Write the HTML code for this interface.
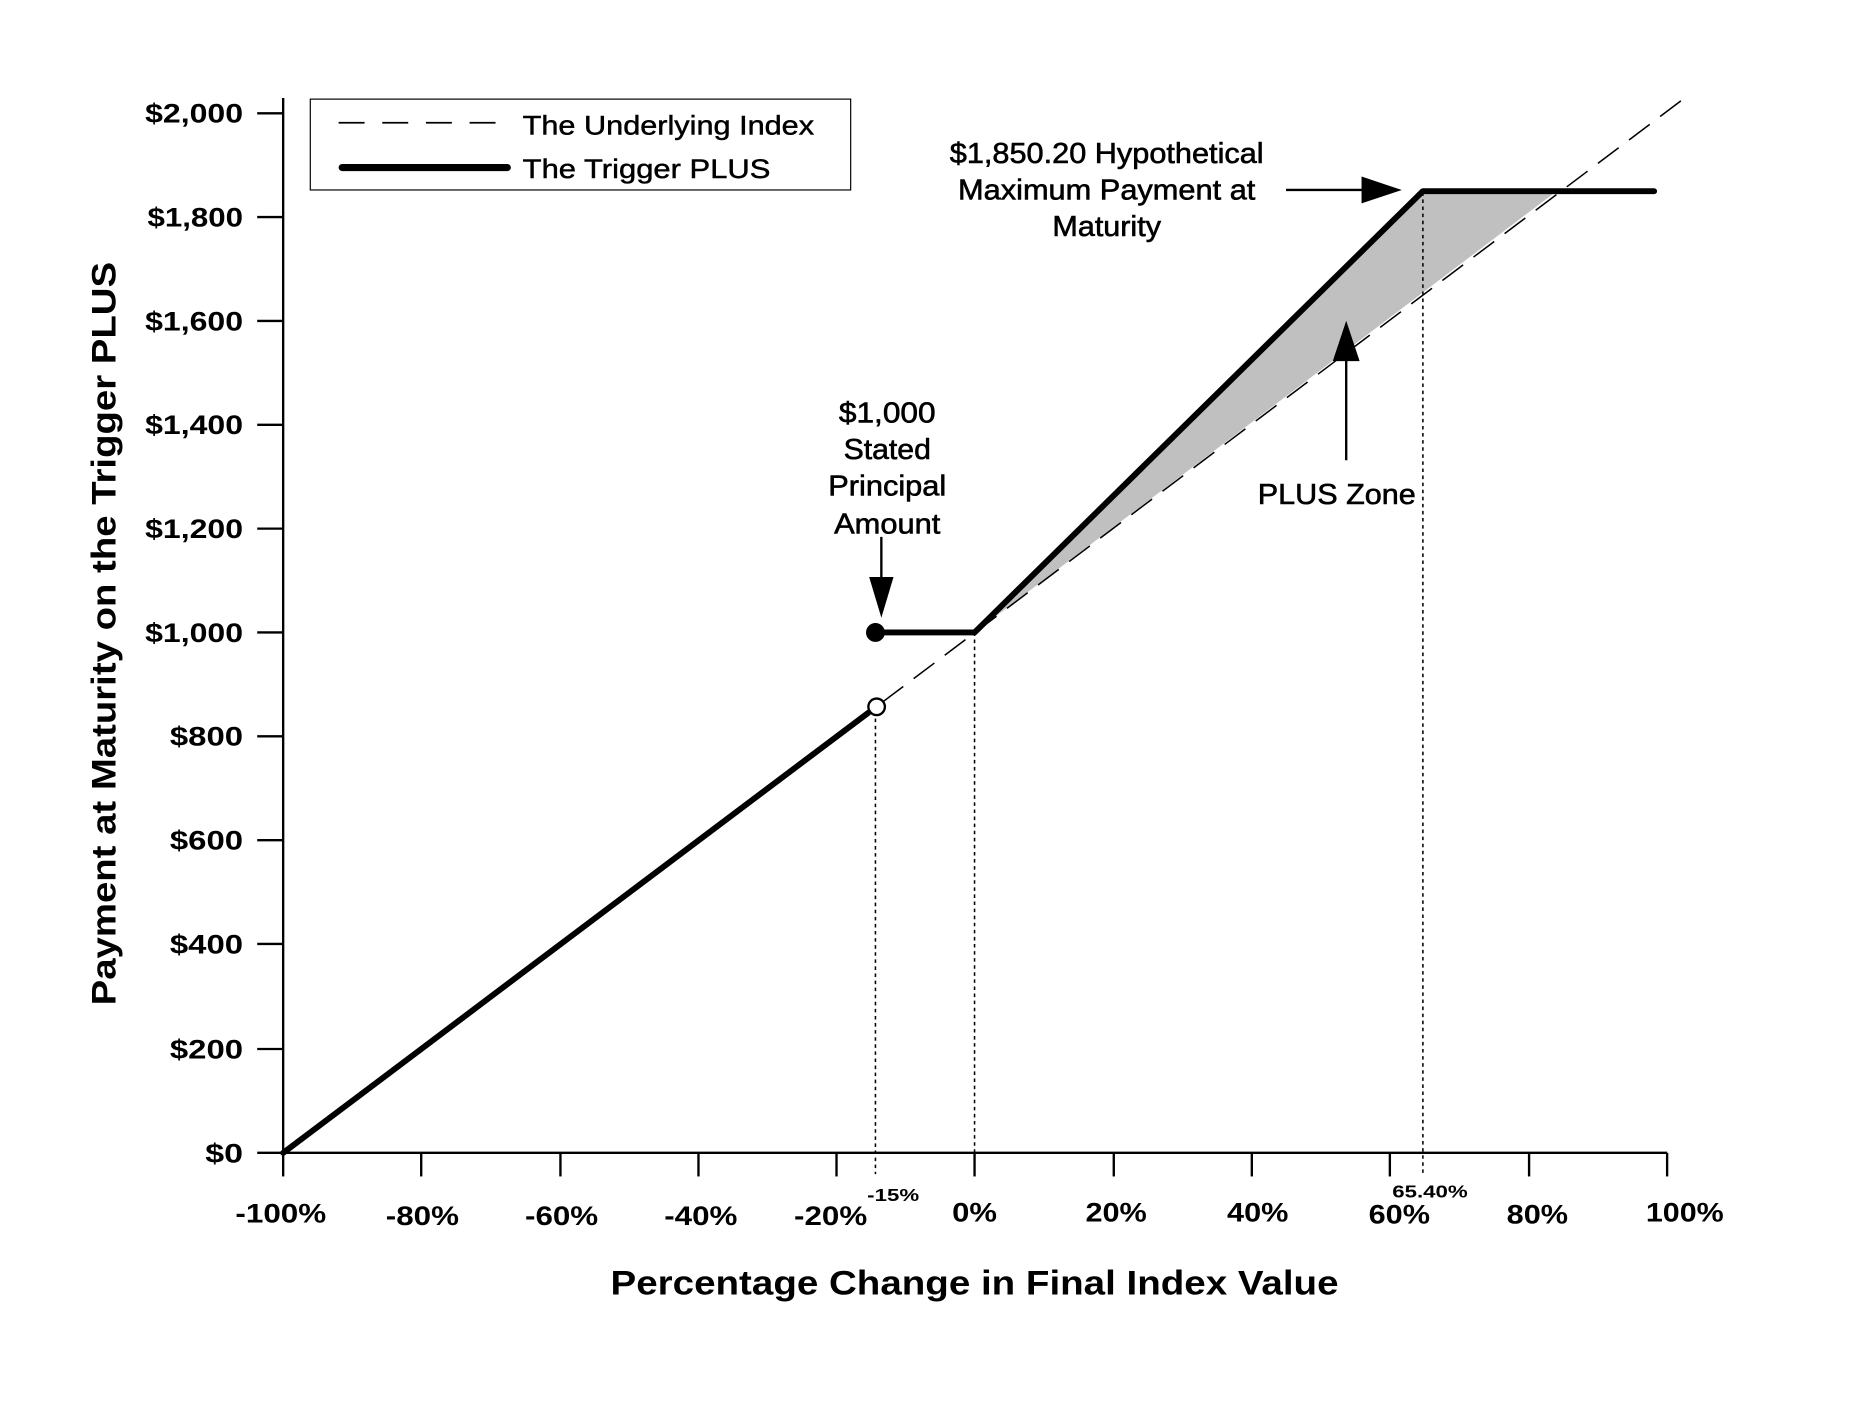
<!DOCTYPE html>
<html><head><meta charset="utf-8"><style>html,body{margin:0;padding:0;background:#fff}svg{display:block}</style></head>
<body>
<svg width="1850" height="1403" viewBox="0 0 1568 1189" preserveAspectRatio="none" xmlns="http://www.w3.org/2000/svg" font-family="Liberation Sans, Arial, sans-serif">
<polygon points="826,536 1206,163 1318,163" fill="#c0c0c0"/>
<g stroke="#000" stroke-width="1.3" stroke-dasharray="3,3">
<line x1="742" y1="603" x2="742" y2="995"/>
<line x1="826" y1="536" x2="826" y2="995"/>
<line x1="1206" y1="163" x2="1206" y2="995"/>
</g>
<line x1="748" y1="595" x2="1428" y2="83" stroke="#000" stroke-width="1.3" stroke-dasharray="22,11"/>
<g stroke="#000" stroke-width="2">
<line x1="240" y1="83" x2="240" y2="977"/>
<line x1="240" y1="977" x2="1413" y2="977"/>
<line x1="218" y1="96" x2="240" y2="96"/>
<line x1="218" y1="184" x2="240" y2="184"/>
<line x1="218" y1="272" x2="240" y2="272"/>
<line x1="218" y1="360" x2="240" y2="360"/>
<line x1="218" y1="448" x2="240" y2="448"/>
<line x1="218" y1="536" x2="240" y2="536"/>
<line x1="218" y1="624" x2="240" y2="624"/>
<line x1="218" y1="712" x2="240" y2="712"/>
<line x1="218" y1="800" x2="240" y2="800"/>
<line x1="218" y1="889" x2="240" y2="889"/>
<line x1="218" y1="977" x2="240" y2="977"/>
<line x1="240" y1="977" x2="240" y2="997"/>
<line x1="357" y1="977" x2="357" y2="997"/>
<line x1="475" y1="977" x2="475" y2="997"/>
<line x1="592" y1="977" x2="592" y2="997"/>
<line x1="709" y1="977" x2="709" y2="997"/>
<line x1="826" y1="977" x2="826" y2="997"/>
<line x1="944" y1="977" x2="944" y2="997"/>
<line x1="1061" y1="977" x2="1061" y2="997"/>
<line x1="1178" y1="977" x2="1178" y2="997"/>
<line x1="1296" y1="977" x2="1296" y2="997"/>
<line x1="1413" y1="977" x2="1413" y2="997"/>
</g>
<g stroke="#000" stroke-width="5" fill="none" stroke-linecap="round" stroke-linejoin="round">
<line x1="240" y1="977" x2="736" y2="604"/>
<polyline points="742,536 826,536 1206,162 1402,162"/>
</g>
<circle cx="742" cy="536" r="8" fill="#000"/>
<circle cx="743" cy="599" r="7" fill="#fff" stroke="#000" stroke-width="2"/>
<rect x="263" y="84" width="458" height="77" fill="#fff" stroke="#000" stroke-width="1"/>
<line x1="287" y1="104" x2="432" y2="104" stroke="#000" stroke-width="1.5" stroke-dasharray="22,15"/>
<line x1="290" y1="142" x2="430" y2="142" stroke="#000" stroke-width="6" stroke-linecap="round"/>
<g font-size="23" fill="#000" stroke="#000" stroke-width="0.4">
<text x="443" y="114" textLength="247" lengthAdjust="spacingAndGlyphs">The Underlying Index</text>
<text x="443" y="151" textLength="210" lengthAdjust="spacingAndGlyphs">The Trigger PLUS</text>
</g>
<g font-size="23" font-weight="bold" text-anchor="end" lengthAdjust="spacingAndGlyphs">
<text x="206" y="104" textLength="83" lengthAdjust="spacingAndGlyphs">$2,000</text>
<text x="206" y="192" textLength="81" lengthAdjust="spacingAndGlyphs">$1,800</text>
<text x="206" y="280" textLength="83" lengthAdjust="spacingAndGlyphs">$1,600</text>
<text x="206" y="368" textLength="83" lengthAdjust="spacingAndGlyphs">$1,400</text>
<text x="206" y="456" textLength="83" lengthAdjust="spacingAndGlyphs">$1,200</text>
<text x="206" y="544" textLength="83" lengthAdjust="spacingAndGlyphs">$1,000</text>
<text x="206" y="632" textLength="62" lengthAdjust="spacingAndGlyphs">$800</text>
<text x="206" y="720" textLength="62" lengthAdjust="spacingAndGlyphs">$600</text>
<text x="206" y="808" textLength="62" lengthAdjust="spacingAndGlyphs">$400</text>
<text x="206" y="897" textLength="62" lengthAdjust="spacingAndGlyphs">$200</text>
<text x="206" y="985" textLength="32" lengthAdjust="spacingAndGlyphs">$0</text>
</g>
<g font-size="23" font-weight="bold" text-anchor="middle">
<text x="238" y="1036" textLength="77" lengthAdjust="spacingAndGlyphs">-100%</text>
<text x="358" y="1038" textLength="62" lengthAdjust="spacingAndGlyphs">-80%</text>
<text x="476" y="1038" textLength="62" lengthAdjust="spacingAndGlyphs">-60%</text>
<text x="594" y="1038" textLength="62" lengthAdjust="spacingAndGlyphs">-40%</text>
<text x="704" y="1038" textLength="62" lengthAdjust="spacingAndGlyphs">-20%</text>
<text x="826" y="1035" textLength="38" lengthAdjust="spacingAndGlyphs">0%</text>
<text x="946" y="1035" textLength="52" lengthAdjust="spacingAndGlyphs">20%</text>
<text x="1066" y="1035" textLength="52" lengthAdjust="spacingAndGlyphs">40%</text>
<text x="1186" y="1037" textLength="52" lengthAdjust="spacingAndGlyphs">60%</text>
<text x="1303" y="1037" textLength="52" lengthAdjust="spacingAndGlyphs">80%</text>
<text x="1428" y="1035" textLength="66" lengthAdjust="spacingAndGlyphs">100%</text>
<text x="757" y="1018" font-size="15" textLength="44" lengthAdjust="spacingAndGlyphs">-15%</text>
<text x="1212" y="1015" font-size="15" textLength="64" lengthAdjust="spacingAndGlyphs">65.40%</text>
</g>
<text x="826" y="1097" font-size="29" font-weight="bold" text-anchor="middle" textLength="617" lengthAdjust="spacingAndGlyphs">Percentage Change in Final Index Value</text>
<text transform="translate(98,537) rotate(-90)" font-size="29" font-weight="bold" text-anchor="middle" textLength="630" lengthAdjust="spacingAndGlyphs">Payment at Maturity on the Trigger PLUS</text>
<g font-size="24" text-anchor="middle" stroke="#000" stroke-width="0.5">
<text x="938" y="138" textLength="266" lengthAdjust="spacingAndGlyphs">$1,850.20 Hypothetical</text>
<text x="938" y="169" textLength="252" lengthAdjust="spacingAndGlyphs">Maximum Payment at</text>
<text x="938" y="200" textLength="92" lengthAdjust="spacingAndGlyphs">Maturity</text>
<text x="752" y="358" textLength="82" lengthAdjust="spacingAndGlyphs">$1,000</text>
<text x="752" y="389" textLength="74" lengthAdjust="spacingAndGlyphs">Stated</text>
<text x="752" y="420" textLength="100" lengthAdjust="spacingAndGlyphs">Principal</text>
<text x="752" y="452" textLength="90" lengthAdjust="spacingAndGlyphs">Amount</text>
<text x="1133" y="427" textLength="134" lengthAdjust="spacingAndGlyphs">PLUS Zone</text>
</g>
<g stroke="#000" stroke-width="2" fill="#000">
<line x1="1090" y1="161" x2="1160" y2="161"/>
<polygon points="1185,161 1155,151 1155,171"/>
<line x1="747" y1="455" x2="747" y2="495"/>
<polygon points="747,520 738,490 756,490"/>
<line x1="1141" y1="390" x2="1141" y2="300"/>
<polygon points="1141,275 1131,305 1151,305"/>
</g>
</svg>
</body></html>
